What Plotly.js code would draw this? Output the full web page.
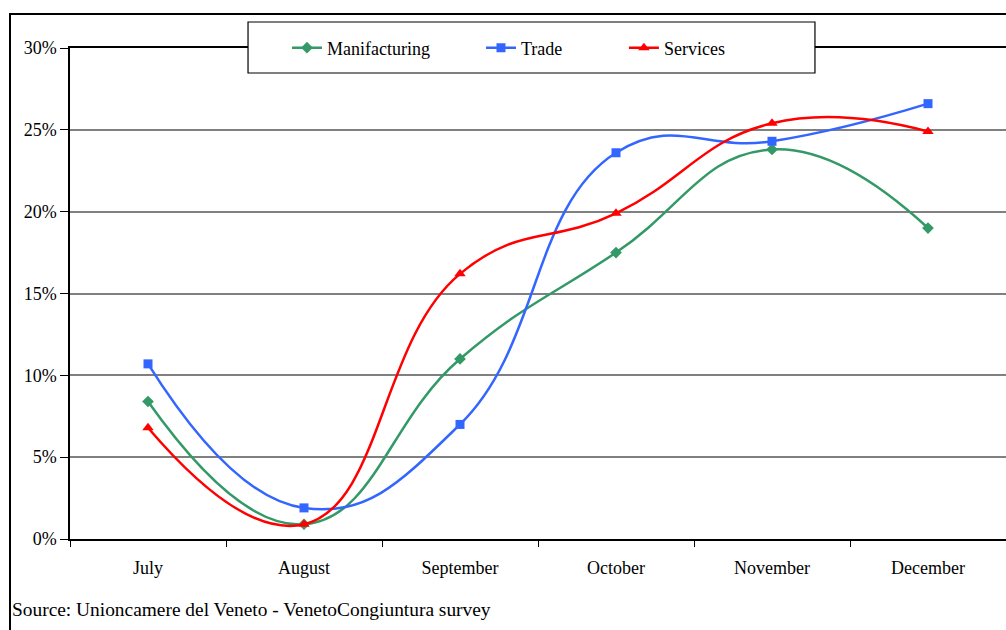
<!DOCTYPE html>
<html>
<head>
<meta charset="utf-8">
<script src="https://cdn.plot.ly/plotly-3.0.1.min.js"></script>
<style>
html,body{margin:0;padding:0;background:#fff;}
#chart{width:1006px;height:630px;}
</style>
</head>
<body>
<div id="chart"></div>
<script>
const months = ["July", "August", "September", "October", "November", "December"];
const manufacturing = [0.084, 0.009, 0.110, 0.175, 0.238, 0.190];
const trade = [0.107, 0.019, 0.070, 0.236, 0.243, 0.266];
const services = [0.068, 0.009, 0.162, 0.199, 0.254, 0.249];
const sourceNote = "Source: Unioncamere del Veneto - VenetoCongiuntura survey";

const FONT = "Liberation Serif, Times New Roman, serif";
const SMOOTH = 1.3;

const traces = [
  {x: months, y: manufacturing, name: "Manifacturing", type: "scatter", mode: "lines+markers",
   line: {color: "#339966", width: 2.5, shape: "spline", smoothing: SMOOTH},
   marker: {symbol: "diamond", size: 9, color: "#339966"}, legend: "legend"},
  {x: months, y: trade, name: "Trade", type: "scatter", mode: "lines+markers",
   line: {color: "#3366FF", width: 2.5, shape: "spline", smoothing: SMOOTH},
   marker: {symbol: "square", size: 9, color: "#3366FF"}, legend: "legend2"},
  {x: months, y: services, name: "Services", type: "scatter", mode: "lines+markers",
   line: {color: "#FF0000", width: 2.5, shape: "spline", smoothing: SMOOTH},
   marker: {symbol: "triangle-up", size: 10, color: "#FF0000"}, legend: "legend3"}
];

const legendBase = {orientation: "h", yanchor: "middle", y: 1.0, xanchor: "left",
  bgcolor: "rgba(0,0,0,0)", borderwidth: 0, font: {family: FONT, size: 18, color: "#000"}};

const layout = {
  width: 1006, height: 630,
  margin: {l: 70, r: 0, t: 48, b: 91},
  paper_bgcolor: "#fff", plot_bgcolor: "#fff",
  font: {family: FONT, size: 18, color: "#000"},
  showlegend: true,
  legend: Object.assign({}, legendBase, {x: 0.2318}),
  legend2: Object.assign({}, legendBase, {x: 0.4391}),
  legend3: Object.assign({}, legendBase, {x: 0.5918}),
  xaxis: {type: "category", range: [-0.5, 5.5], showline: true, linecolor: "#000", linewidth: 1.5,
    mirror: true, ticks: "outside", tickson: "boundaries", ticklen: 6, tickcolor: "#000",
    showgrid: false, zeroline: false, ticklabelstandoff: 12,
    tickfont: {family: FONT, size: 18, color: "#000"}},
  yaxis: {range: [0, 0.30], dtick: 0.05, tick0: 0, tickformat: ".0%", showline: true,
    linecolor: "#000", linewidth: 1.5, ticks: "outside", ticklen: 8, tickcolor: "#000",
    showgrid: true, gridcolor: "#808080", gridwidth: 1.5, zeroline: false,
    tickfont: {family: FONT, size: 18, color: "#000"}},
  shapes: [
    {type: "rect", xref: "paper", yref: "paper", x0: -0.0641, x1: 1.02, y0: -0.3, y1: 1.0692,
     line: {color: "#000", width: 2}, fillcolor: "rgba(0,0,0,0)", layer: "above"},
    {type: "rect", xref: "paper", yref: "paper", x0: 0.1902, x1: 0.7959, y0: 0.9491, y1: 1.053,
     line: {color: "#000", width: 1.2}, fillcolor: "#fff", layer: "above"}
  ],
  annotations: [
    {text: sourceNote, xref: "paper", yref: "paper", x: -0.0641, y: -0.1426,
     xanchor: "left", yanchor: "middle", showarrow: false,
     font: {family: FONT, size: 19.4, color: "#000"}}
  ]
};

Plotly.newPlot("chart", traces, layout, {displayModeBar: false, responsive: false});
</script>
</body>
</html>
